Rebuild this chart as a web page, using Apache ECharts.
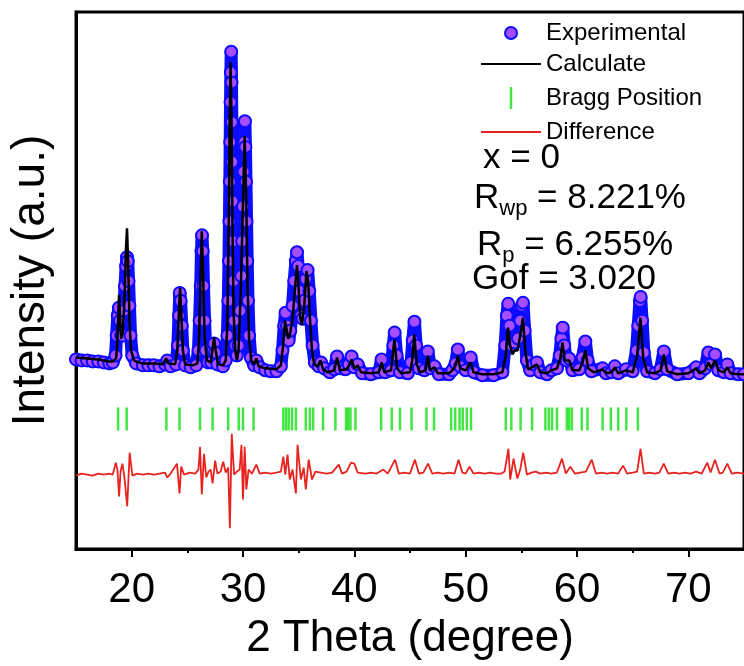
<!DOCTYPE html>
<html>
<head>
<meta charset="utf-8">
<script src="https://cdn.jsdelivr.net/npm/echarts@6/dist/echarts.min.js"></script>
<style>html,body{margin:0;padding:0;background:#fff}#c{width:744px;height:666px}</style>
</head>
<body>
<div id="c"></div>
<script>
// ---- data (2θ in degrees, intensity in arbitrary units) ----
const xTickLabels = [20, 30, 40, 50, 60, 70];
const xMinorTicks = [25, 35, 45, 55, 65];

const experimental = [
[15,191],[15.5,190],[16,190],[16.5,189],[17,189],[17.5,188],[18,187],[18.3,188],[18.55,195],[18.65,215],[18.75,235],[18.85,243],[18.95,230],[19.05,215],[19.2,215],[19.3,240],[19.4,265],[19.5,285],[19.58,294],[19.65,290],[19.72,270],[19.8,245],[19.9,215],[20.05,195],[20.4,187],
[21,185],[21.5,185],[22,185],[22.5,184],[23,186],[23.2,190],[23.5,184],[24,186],[24.15,205],[24.25,235],[24.32,258],[24.4,250],[24.5,225],[24.6,200],[24.8,185],[25.3,183],[25.8,185],
[26,200],[26.1,230],[26.2,265],[26.27,300],[26.32,316],[26.38,300],[26.45,265],[26.55,230],[26.65,200],[26.85,188],[27.15,188],[27.3,200],[27.4,207],[27.5,198],[27.7,186],[28.2,184],
[28.45,190],[28.6,215],[28.68,250],[28.74,290],[28.78,330],[28.82,370],[28.85,410],[28.88,450],[28.91,480],[28.94,501],[28.97,470],[29,430],[29.03,390],[29.06,350],[29.1,310],[29.14,270],[29.2,230],[29.3,205],[29.45,195],
[29.6,205],[29.75,240],[29.85,275],[29.93,310],[30,345],[30.06,380],[30.12,410],[30.17,431],[30.22,405],[30.27,370],[30.32,330],[30.38,290],[30.45,250],[30.55,215],[30.7,193],[31,185],[31.2,190],[31.5,183],[32,180],[32.5,179],[33,179],
[33.4,184],[33.55,200],[33.7,225],[33.82,238],[33.95,225],[34.1,210],[34.25,220],[34.45,245],[34.6,270],[34.75,290],[34.85,299],[34.95,285],[35.05,260],[35.2,235],[35.35,232],[35.5,250],[35.65,272],[35.8,281],[35.95,260],[36.1,230],[36.25,205],[36.45,188],
[36.8,184],[37,188],[37.3,182],[37.8,178],[38.2,181],[38.45,194],[38.7,182],[39.2,181],[39.5,186],[39.75,194],[40,183],[40.3,186],[40.7,177],[41.5,176],[42.2,178],[42.45,191],[42.75,178],[43.3,180],[43.5,205],[43.62,218],[43.8,195],[44.1,178],
[44.8,177],[45.1,188],[45.25,210],[45.4,229],[45.55,205],[45.8,182],[46.3,180],[46.6,199],[46.85,182],[47.2,184],[47.6,176],[48.5,176],[48.8,180],[49.1,187],[49.3,201],[49.5,184],[50,180],[50.45,193],[50.75,178],[51.5,175],[52.5,175],
[53.3,178],[53.55,205],[53.7,235],[53.82,247],[53.95,225],[54.15,205],[54.4,208],[54.7,212],[54.9,230],[55.05,245],[55.15,248],[55.3,220],[55.5,190],[55.8,180],[56.1,186],[56.4,188],[56.7,178],[57.3,176],[57.7,180],[58.2,182],
[58.45,195],[58.6,212],[58.72,223],[58.85,205],[59.05,190],[59.3,192],[59.6,180],[60.2,181],[60.5,193],[60.75,209],[60.95,190],[61.3,179],[62.3,182],[62.6,177],[63.1,178],[63.4,184],[63.7,177],[64.4,181],[65,179],
[65.35,200],[65.5,225],[65.65,250],[65.72,254],[65.85,230],[66,198],[66.3,179],[67,177],[67.5,181],[67.8,199],[68.1,181],[69,176],[70,177],[70.7,183],[71,177],[71.5,182],[71.8,198],[72.05,186],[72.4,196],[72.7,180],[73.2,178],[73.5,186],[73.8,177],[74.5,176],[75,176]
];

const calculated = [
[15,193],[16,192],[17,191],[18,189],[18.3,189],[18.6,192],[18.7,205],[18.8,235],[18.87,256],[18.95,235],[19.05,212],[19.2,218],[19.35,250],[19.48,300],[19.58,323],[19.68,290],[19.8,230],[19.95,200],[20.2,190],[20.6,188],
[21,187],[22,187],[22.8,186],[23.1,192],[23.3,187],[23.9,186],[24.1,200],[24.25,240],[24.35,263],[24.45,240],[24.6,200],[24.8,186],[25.5,185],[25.9,187],[26.05,210],[26.2,280],[26.3,320],[26.4,285],[26.55,215],[26.75,190],
[27.1,188],[27.25,200],[27.4,213],[27.55,200],[27.75,186],[28.2,185],[28.45,190],[28.6,230],[28.72,330],[28.8,430],[28.88,490],[28.96,440],[29.05,330],[29.15,240],[29.3,200],[29.45,190],[29.6,200],[29.8,260],[30,350],[30.15,416],[30.28,360],[30.4,270],[30.55,210],[30.75,190],
[31,186],[31.2,192],[31.4,184],[32,182],[33,181],[33.4,185],[33.6,205],[33.78,230],[33.9,228],[34.05,212],[34.2,215],[34.45,232],[34.65,260],[34.85,286],[35,262],[35.15,232],[35.3,226],[35.5,245],[35.7,280],[35.85,270],[36,235],[36.2,200],[36.4,186],
[36.7,184],[36.95,190],[37.2,181],[37.6,178],[38.2,180],[38.45,193],[38.7,180],[39.3,181],[39.5,184],[39.75,191],[40,182],[40.3,185],[40.6,178],[41.5,177],[42.2,178],[42.45,188],[42.7,178],[43.3,180],[43.6,211],[43.85,182],[44.2,177],
[45,178],[45.2,190],[45.38,216],[45.6,186],[45.9,178],[46.4,180],[46.6,195],[46.8,180],[47.2,183],[47.5,177],[48.5,177],[48.8,180],[49.1,185],[49.3,195],[49.5,182],[50,180],[50.45,188],[50.7,178],[51.5,176],[52.5,176],
[53.3,178],[53.6,195],[53.8,223],[54,205],[54.2,196],[54.4,200],[54.65,200],[54.9,215],[55.15,233],[55.35,200],[55.6,181],[56.1,184],[56.4,186],[56.7,178],[57.3,177],[57.7,180],[58.2,182],[58.5,192],[58.7,208],[58.9,190],[59.3,190],[59.6,180],
[60.2,180],[60.5,188],[60.75,200],[61,182],[61.5,178],[62.3,181],[62.6,177],[63.1,178],[63.4,183],[63.7,177],[64.4,180],[65,178],[65.4,195],[65.7,233],[65.95,192],[66.3,178],[67,177],[67.5,180],[67.8,196],[68.1,179],
[69,176],[70,177],[70.7,182],[71,177],[71.5,180],[71.8,188],[72.05,182],[72.4,190],[72.7,180],[73.2,178],[73.5,183],[73.8,177],[74.5,176],[75,176]
];

const braggPositions = [
18.78,19.55,23.12,24.3,26.14,27.27,28.67,29.62,30.0,30.95,33.62,33.86,34.1,34.4,34.75,35.64,36.0,36.3,37.19,38.3,39.26,39.44,39.65,40.1,
42.41,43.36,44.1,45.14,46.48,47.16,48.7,49.06,49.45,49.74,50.1,50.48,53.6,54.1,54.93,55.97,57.16,57.46,57.76,58.2,59.09,59.3,59.54,60.43,60.94,62.3,63.04,63.7,64.43,65.47
];

const difference = [
[15,74],[15.5,76],[16,75],[16.5,74],[17,76],[17.5,75],[18,76],[18.3,75],[18.58,87],[18.72,80],[18.87,53],[19,78],[19.17,86],[19.35,72],[19.6,43],[19.82,97],[20.06,74],[20.5,76],[21,75],[21.5,76],[22,75],[22.5,76],[23,77],[23.2,72],[23.5,76],
[24.07,86],[24.3,56],[24.45,83],[24.7,75],[25.2,77],[25.7,76],[26,80],[26.14,103],[26.3,55],[26.5,96],[26.7,72],[26.9,78],[27.1,80],[27.27,66],[27.5,89],[27.7,76],[28,78],[28.22,88],[28.45,77],[28.67,82],[28.82,21],[28.99,116],[29.2,75],
[29.45,78],[29.7,80],[29.86,105],[30,50],[30.15,103],[30.3,60],[30.5,80],[30.8,76],[31.2,85],[31.5,76],[32,77],[32.5,76],[33,77],[33.4,78],[33.62,93],[33.8,75],[34,95],[34.2,70],[34.45,80],[34.75,56],[34.9,105],[35.2,70],[35.45,82],[35.64,60],[35.9,90],[36.2,70],[36.5,78],
[37,77],[37.5,76],[38,77],[38.6,85],[38.9,76],[39.3,78],[39.7,87],[40,86],[40.3,77],[41,76],[41.5,77],[42,76],[42.6,80],[43,76],[43.66,90],[44,76],[44.5,77],[45,76],[45.44,90],[45.8,76],[46.2,77],[46.62,86],[47,76],[47.5,77],[48,76],[48.5,77],
[49,76],[49.36,90],[49.7,77],[50,76],[50.34,83],[50.7,76],[51.2,77],[51.7,76],[52.2,77],[52.7,76],[53.2,76],[53.5,78],[53.84,101],[54,70],[54.3,91],[54.64,71],[54.9,80],[55.17,97],[55.5,75],[55.9,77],[56.3,78],[56.7,76],[57.2,77],[57.7,76],
[58.2,77],[58.65,91],[59,76],[59.4,83],[59.8,76],[60.3,77],[60.8,78],[61.32,90],[61.7,76],[62.2,77],[62.7,76],[63.2,77],[63.7,76],[64.14,84],[64.5,76],[65,77],[65.4,78],[65.71,101],[66,76],[66.5,77],[67,76],[67.4,77],[67.79,86],[68.2,76],
[68.7,77],[69.2,76],[69.7,77],[70.2,76],[70.7,78],[71.2,76],[71.7,87],[72,77],[72.39,90],[72.8,76],[73.1,77],[73.5,86],[73.9,76],[74.4,77],[75,76]
];

const braggLevel = 131;
const FONT = "'Liberation Sans', Arial, Helvetica, sans-serif";
const BLUE = '#0c0cff';
const VIOLET = '#a64dff';
const GREEN = '#14e014';
const RED = '#e8231f';

const chart = echarts.init(document.getElementById('c'), null, {renderer: 'canvas'});
chart.setOption({
  animation: false,
  backgroundColor: '#fff',
  grid: {left: 75, top: 12, right: -4, bottom: 113, show: true, borderColor: '#000', borderWidth: 3, containLabel: false},
  xAxis: [{
    type: 'value', min: 15, max: 75, position: 'bottom',
    name: '2 Theta (degree)', nameLocation: 'middle', nameGap: 68,
    nameTextStyle: {fontSize: 44, fontFamily: FONT, color: '#000'},
    axisLine: {show: true, lineStyle: {color: '#000', width: 3}},
    axisTick: {show: true, customValues: xTickLabels, length: 8, lineStyle: {color: '#000', width: 2}},
    axisLabel: {show: true, customValues: xTickLabels, margin: 20, fontSize: 42, fontFamily: FONT, color: '#000'},
    splitLine: {show: false}
  }, {
    type: 'value', min: 15, max: 75, position: 'bottom', offset: 0, gridIndex: 0,
    axisLine: {show: false},
    axisTick: {show: true, customValues: xMinorTicks, length: 4, lineStyle: {color: '#000', width: 2}},
    axisLabel: {show: false},
    splitLine: {show: false}
  }],
  yAxis: {
    type: 'value', min: 0, max: 541,
    name: 'Intensity (a.u.)', nameLocation: 'middle', nameGap: 22,
    nameTextStyle: {fontSize: 46, fontFamily: FONT, color: '#000'},
    axisLine: {show: true, lineStyle: {color: '#000', width: 3}},
    axisTick: {show: false}, axisLabel: {show: false}, splitLine: {show: false}
  },
  legend: [{
    orient: 'vertical', left: 499, top: 16, itemWidth: 60, itemHeight: 12, itemGap: 10,
    textStyle: {fontSize: 24, fontFamily: FONT, color: '#000', lineHeight: 22},
    data: [{name: 'Experimental', icon: 'circle', itemStyle: {color: VIOLET, borderColor: BLUE, borderWidth: 2}}]
  }, {
    orient: 'vertical', left: 476, top: 47, itemWidth: 60, itemHeight: 22, itemGap: 10,
    textStyle: {fontSize: 24, fontFamily: FONT, color: '#000', lineHeight: 22},
    data: [
      {name: 'Calculate', icon: 'path://M0,0L30,0L30,1L0,1Z', itemStyle: {color: '#000'}},
      {name: 'Bragg Position', icon: 'path://M0,0L1,0L1,9L0,9Z', itemStyle: {color: GREEN}},
      {name: 'Difference', icon: 'path://M0,0L30,0L30,1L0,1Z', itemStyle: {color: RED}}
    ]
  }],
  graphic: [
    {type: 'text', x: 483, y: 158, style: {text: 'x = 0', fontSize: 35, fontFamily: FONT, fill: '#000', align: 'left', verticalAlign: 'middle'}},
    {type: 'text', x: 474, y: 198, style: {
      text: '{m|R}{s|wp}{m| = 8.221%}', align: 'left', verticalAlign: 'middle',
      rich: {m: {fontSize: 35, lineHeight: 44, fontFamily: FONT, fill: '#000'}, s: {fontSize: 22, lineHeight: 22, fontFamily: FONT, fill: '#000', verticalAlign: 'bottom'}}
    }},
    {type: 'text', x: 477, y: 245, style: {
      text: '{m|R}{s|p}{m| = 6.255%}', align: 'left', verticalAlign: 'middle',
      rich: {m: {fontSize: 35, lineHeight: 44, fontFamily: FONT, fill: '#000'}, s: {fontSize: 22, lineHeight: 22, fontFamily: FONT, fill: '#000', verticalAlign: 'bottom'}}
    }},
    {type: 'text', x: 472, y: 279, style: {text: 'Gof = 3.020', fontSize: 35, fontFamily: FONT, fill: '#000', align: 'left', verticalAlign: 'middle'}}
  ],
  series: [
    {
      name: 'Experimental', type: 'line', data: experimental, z: 2,
      symbol: 'circle', symbolSize: 12, showSymbol: true, showAllSymbol: true,
      itemStyle: {color: VIOLET, borderColor: BLUE, borderWidth: 2},
      lineStyle: {color: BLUE, width: 13, cap: 'round', join: 'round'}
    },
    {
      name: 'Calculate', type: 'line', data: calculated, z: 3, symbol: 'none',
      lineStyle: {color: '#000', width: 2.5}, itemStyle: {color: '#000'}
    },
    {
      name: 'Bragg Position', type: 'scatter', z: 2,
      data: braggPositions.map(p => [p, braggLevel]),
      symbol: 'rect', symbolSize: [2.5, 23], itemStyle: {color: GREEN}
    },
    {
      name: 'Difference', type: 'line', data: difference, z: 2, symbol: 'none',
      lineStyle: {color: RED, width: 1.8}, itemStyle: {color: RED}
    }
  ]
});
</script>
</body>
</html>
